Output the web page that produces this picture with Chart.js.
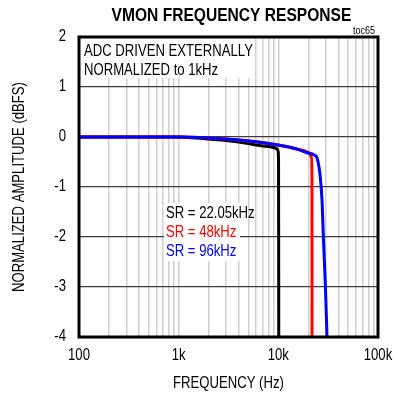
<!DOCTYPE html>
<html>
<head>
<meta charset="utf-8">
<script src="https://cdn.jsdelivr.net/npm/chart.js@4.4.1/dist/chart.umd.min.js"></script>
<style>
  html, body { margin: 0; padding: 0; background: #fff; }
</style>
</head>
<body>
<canvas id="freqChart" width="393" height="396"></canvas>
<script>
var FONT = "'Liberation Sans', Arial, sans-serif";
var NARROW = 0.82; // squeeze text horizontally, narrow-face look

// response per sample rate: frequency (Hz) and amplitude (dBFS)
var sr22Freq = [100, 500, 1000, 1500, 2000, 3000, 4000, 5000, 6000, 7000, 8000, 9000, 9600, 9900, 10050, 10100];
var sr22Db   = [0, 0, 0, -0.02, -0.04, -0.07, -0.1, -0.13, -0.16, -0.18, -0.19, -0.21, -0.23, -0.27, -0.5, -4.2];

var sr48Freq = [100, 1000, 2000, 4000, 8000, 12000, 16000, 19000, 20000, 21000, 21500, 21750, 21800];
var sr48Db   = [0, 0, -0.02, -0.06, -0.13, -0.19, -0.25, -0.29, -0.31, -0.35, -0.42, -0.8, -4.2];

var sr96Freq = [100, 1000, 2000, 4000, 8000, 12000, 16000, 19000, 23000, 24500, 25300, 26200, 27500, 28300, 29700, 31000];
var sr96Db   = [0, 0, -0.02, -0.06, -0.13, -0.19, -0.25, -0.31, -0.36, -0.42, -0.55, -0.75, -1.3, -2.0, -3.0, -4.2];

var seriesLabels = ['SR = 22.05kHz', 'SR = 48kHz', 'SR = 96kHz'];
var seriesColors = ['#000000', '#ff0000', '#0000ff'];

var yTicks = [2, 1, 0, -1, -2, -3, -4];
var xMajorTicks = [100, 1000, 10000, 100000];
var xTickLabels = ['100', '1k', '10k', '100k'];
var noteLines = ['ADC DRIVEN EXTERNALLY', 'NORMALIZED to 1kHz'];

// one grid line per 1..9 step of every decade
var gridFreqs = [];
for (var e = 2; e <= 4; e++) {
  for (var m = 1; m <= 9; m++) gridFreqs.push(m * Math.pow(10, e));
}
gridFreqs.push(100000);

// condensed text: scale every fillText around its anchor, and report narrower widths
var proto = CanvasRenderingContext2D.prototype;
var rawFillText = proto.fillText;
var rawMeasureText = proto.measureText;
proto.fillText = function (text, x, y) {
  this.save();
  this.translate(x, y);
  this.scale(NARROW, 1);
  rawFillText.call(this, text, 0, 0);
  this.restore();
};
proto.measureText = function (text) {
  var m = rawMeasureText.call(this, text);
  return {
    width: m.width * NARROW,
    actualBoundingBoxAscent: m.actualBoundingBoxAscent,
    actualBoundingBoxDescent: m.actualBoundingBoxDescent,
    actualBoundingBoxLeft: m.actualBoundingBoxLeft * NARROW,
    actualBoundingBoxRight: m.actualBoundingBoxRight * NARROW
  };
};

function points(freq, db) {
  return freq.map(function (f, i) { return { x: f, y: db[i] }; });
}

var decorations = {
  id: 'decorations',
  beforeDatasetsDraw: function (chart) {
    var ctx = chart.ctx, a = chart.chartArea;
    ctx.save();
    // white patches behind the notes and the series labels
    ctx.fillStyle = '#ffffff';
    ctx.fillRect(a.left + 1, a.top + 1, 172, 40);
    ctx.fillRect(164, 203, 76, 58);

    ctx.font = '16px ' + FONT;
    ctx.textBaseline = 'middle';
    ctx.textAlign = 'left';
    ctx.fillStyle = '#000';
    ctx.fillText(noteLines[0], 84, 52);
    ctx.fillText(noteLines[1], 84, 70.5);

    var rows = [214, 233, 251.5];
    for (var i = 0; i < seriesLabels.length; i++) {
      ctx.fillStyle = seriesColors[i];
      ctx.fillText(seriesLabels[i], 166, rows[i]);
    }
    ctx.restore();
  },
  afterDatasetsDraw: function (chart) {
    var ctx = chart.ctx, a = chart.chartArea;
    ctx.save();
    ctx.strokeStyle = '#000';
    ctx.lineWidth = 3;
    ctx.strokeRect(a.left, a.top, a.right - a.left, a.bottom - a.top);

    ctx.fillStyle = '#000';
    ctx.textBaseline = 'middle';
    ctx.textAlign = 'center';
    ctx.font = 'bold 19px ' + FONT;
    ctx.fillText('VMON FREQUENCY RESPONSE', (a.left + a.right) / 2 + 3, 16);

    ctx.textAlign = 'right';
    ctx.font = '11px ' + FONT;
    ctx.fillText('toc65', a.right - 3, 31);
    ctx.restore();
  }
};

var ctx = document.getElementById('freqChart').getContext('2d');
var chart = new Chart(ctx, {
  type: 'line',
  data: {
    datasets: [
      { label: seriesLabels[0], data: points(sr22Freq, sr22Db), borderColor: seriesColors[0], order: 3 },
      { label: seriesLabels[1], data: points(sr48Freq, sr48Db), borderColor: seriesColors[1], order: 2 },
      { label: seriesLabels[2], data: points(sr96Freq, sr96Db), borderColor: seriesColors[2], order: 1 }
    ]
  },
  options: {
    responsive: false,
    animation: false,
    devicePixelRatio: 1,
    layout: { padding: { top: 37, right: 15, left: 0, bottom: 0 } },
    elements: {
      point: { radius: 0 },
      line: { borderWidth: 3, fill: false, cubicInterpolationMode: 'monotone' }
    },
    plugins: { legend: { display: false }, tooltip: { enabled: false } },
    scales: {
      x: {
        type: 'logarithmic',
        min: 100,
        max: 100000,
        afterBuildTicks: function (scale) {
          scale.ticks = gridFreqs.map(function (v) { return { value: v }; });
        },
        afterFit: function (scale) {
          scale.height = 59;
          scale.paddingLeft = 0;
          scale.paddingRight = 0;
        },
        ticks: {
          autoSkip: false,
          maxRotation: 0,
          padding: 9,
          color: '#000',
          font: { family: FONT, size: 16 },
          callback: function (v) {
            var i = xMajorTicks.indexOf(v);
            return i >= 0 ? xTickLabels[i] : '';
          }
        },
        grid: { color: '#d0d0d0', lineWidth: 1.5, drawTicks: false },
        border: { display: false },
        title: {
          display: true,
          text: 'FREQUENCY (Hz)',
          color: '#000',
          font: { family: FONT, size: 16 },
          padding: { top: 0, bottom: 3 }
        }
      },
      y: {
        min: -4,
        max: 2,
        afterBuildTicks: function (scale) {
          scale.ticks = yTicks.map(function (v) { return { value: v }; });
        },
        afterFit: function (scale) {
          scale.width = 79;
          scale.paddingTop = 0;
          scale.paddingBottom = 0;
        },
        ticks: {
          padding: 13,
          color: '#000',
          font: { family: FONT, size: 16 },
          callback: function (v) { return String(v); }
        },
        grid: { color: '#3c3c3c', lineWidth: 1.2, drawTicks: false },
        border: { display: false },
        title: {
          display: true,
          text: 'NORMALIZED AMPLITUDE (dBFS)',
          color: '#000',
          font: { family: FONT, size: 16 },
          padding: { top: 10, bottom: 0 }
        }
      }
    }
  },
  plugins: [decorations]
});
</script>
</body>
</html>
